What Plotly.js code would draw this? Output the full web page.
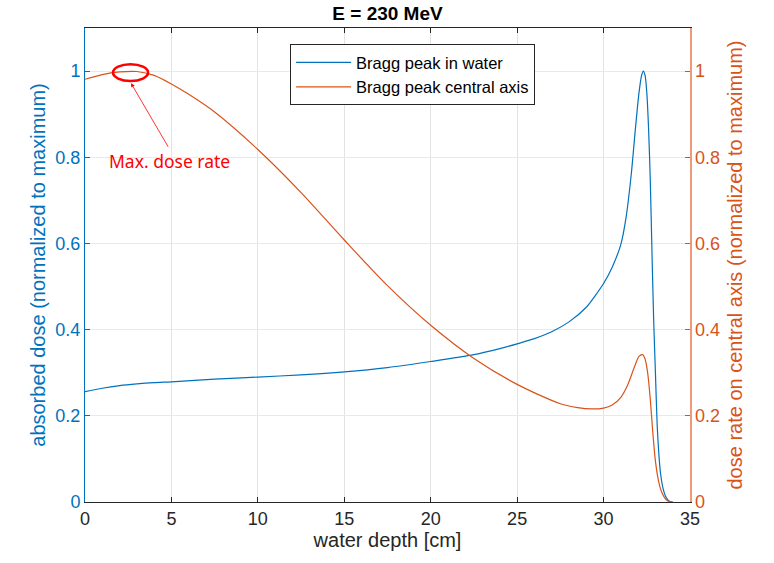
<!DOCTYPE html>
<html>
<head>
<meta charset="utf-8">
<script src="https://cdn.plot.ly/plotly-3.0.1.min.js"></script>
<style>html,body{margin:0;padding:0;background:#fff;}#chart{width:774px;height:563px;}</style>
</head>
<body>
<div id="chart"></div>
<script>
const chartTitle = "E = 230 MeV";
const seriesNames = ["Bragg peak in water", "Bragg peak central axis"];
const depthWater = [0,1,2,3,4,5,7.5,10,12.5,15,17.5,20,22.5,24,25,26,27,28,29,29.5,30,30.5,31,31.3,31.6,31.85,32.05,32.2,32.3,32.4,32.5,32.6,32.7,32.8,32.9,33.0,33.1,33.2,33.3,33.45,33.6,33.8,34.0];
const doseWater = [0.256,0.264,0.270,0.274,0.277,0.279,0.285,0.290,0.295,0.302,0.312,0.326,0.342,0.356,0.367,0.379,0.395,0.418,0.452,0.478,0.507,0.545,0.598,0.660,0.760,0.870,0.950,0.990,1.000,0.990,0.950,0.870,0.750,0.580,0.420,0.300,0.180,0.110,0.065,0.030,0.012,0.002,0];
const depthAxis = [0,1,2,3,4,5,6,7.5,10,12.5,15,17.5,20,22.5,25,27.5,28.5,29.3,30,30.5,31,31.4,31.8,32.05,32.25,32.4,32.55,32.7,32.85,33.0,33.15,33.3,33.5,33.7,34.0];
const doseRateAxis = [0.981,0.992,0.998,0.999,0.990,0.970,0.946,0.905,0.818,0.718,0.608,0.502,0.410,0.333,0.273,0.228,0.219,0.216,0.218,0.225,0.243,0.272,0.315,0.338,0.342,0.332,0.300,0.240,0.160,0.095,0.055,0.030,0.012,0.003,0];
const xTicks = [0,5,10,15,20,25,30,35];
const yTicks = [0,0.2,0.4,0.6,0.8,1];
const xLabel = "water depth [cm]";
const yLabelLeft = "absorbed dose (normalized to maximum)";
const yLabelRight = "dose rate on central axis (normalized to maximum)";
const noteText = "Max. dose rate";

const BLUE = "#0072BD", ORANGE = "#D95319", DARK = "#262626";
const font = "Liberation Sans, Arial, sans-serif";

const traces = [
  {x: depthWater, y: doseWater, name: seriesNames[0], type: "scatter", mode: "lines",
   line: {color: BLUE, width: 1.2, shape: "spline", smoothing: 0.8}, yaxis: "y"},
  {x: depthAxis, y: doseRateAxis, name: seriesNames[1], type: "scatter", mode: "lines",
   line: {color: ORANGE, width: 1.2, shape: "spline", smoothing: 0.8}, yaxis: "y2"}
];

const layout = {
  width: 774, height: 563,
  margin: {l: 85, r: 84, t: 28, b: 61},
  paper_bgcolor: "#fff", plot_bgcolor: "#fff",
  font: {family: font, size: 18, color: DARK},
  title: {text: "<b>" + chartTitle + "</b>", font: {family: font, size: 19, color: "#000"}, x: 0.5, xref: "paper", y: 0.976, yanchor: "middle"},
  showlegend: true,
  legend: {x: 0.339, y: 0.966, xanchor: "left", yanchor: "top", bgcolor: "#fff", bordercolor: DARK, borderwidth: 1,
           font: {family: font, size: 16.5, color: "#000"}, tracegroupgap: 0, itemwidth: 55},
  xaxis: {range: [0, 35], tickvals: xTicks, ticks: "inside", ticklen: 5, tickcolor: DARK,
          showline: true, linecolor: DARK, linewidth: 1, mirror: "ticks",
          showgrid: true, gridcolor: "#e3e3e3", zeroline: false,
          tickfont: {family: font, size: 18, color: DARK},
          title: {text: xLabel, font: {family: font, size: 20, color: DARK}, standoff: 4}},
  yaxis: {range: [0, 1.1], tickvals: yTicks, ticks: "inside", ticklen: 5, tickcolor: BLUE,
          showline: true, linecolor: BLUE, linewidth: 1, showgrid: true, gridcolor: "#e1ebf5", zeroline: false,
          tickfont: {family: font, size: 18, color: BLUE},
          title: {text: yLabelLeft, font: {family: font, size: 20, color: BLUE}, standoff: 4}},
  yaxis2: {range: [0, 1.1], tickvals: yTicks, ticks: "inside", ticklen: 5, tickcolor: ORANGE,
           overlaying: "y", side: "right", showline: true, linecolor: "#ED9A78", linewidth: 1.5,
           showgrid: false, zeroline: false,
           tickfont: {family: font, size: 18, color: ORANGE},
           title: {text: yLabelRight, font: {family: font, size: 20, color: ORANGE}, standoff: 9}},
  shapes: [
    {type: "circle", xref: "x", yref: "y", x0: 1.62, x1: 3.65, y0: 0.977, y1: 1.016,
     line: {color: "#FF0000", width: 2.5}}
  ],
  annotations: [
    {xref: "x", yref: "y", x: 2.66, y: 0.972, text: "", showarrow: true, arrowhead: 2, arrowsize: 1, arrowwidth: 0.8,
     arrowcolor: "#FF0000", ax: 38, ay: 65, standoff: 0},
    {xref: "x", yref: "y", x: 1.27, y: 0.791, xanchor: "left", yanchor: "middle", text: noteText, showarrow: false,
     font: {family: "Noto Sans, Open Sans, sans-serif", size: 17.5, color: "#FF0000"}}
  ]
};

Plotly.newPlot("chart", traces, layout, {displayModeBar: false, staticPlot: true});
</script>
</body>
</html>
